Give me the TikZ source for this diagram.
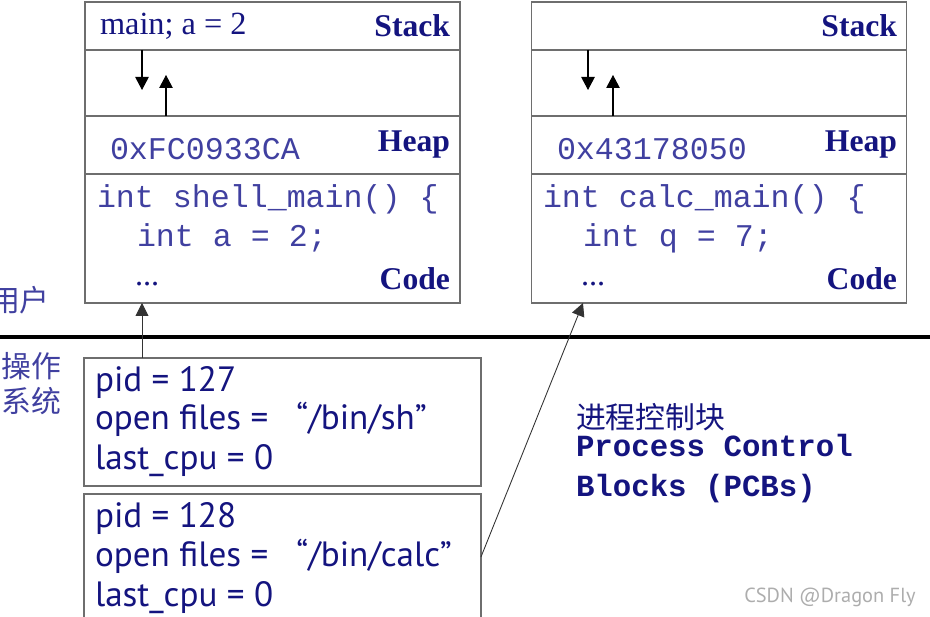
\documentclass[tikz,border=0pt]{standalone}
\usepackage{fontspec}
\setmainfont{Liberation Serif}
\setsansfont{PT Sans}
\setmonofont{Liberation Mono}
\newfontfamily\cjk{Noto Sans CJK SC}
\usetikzlibrary{arrows.meta,positioning,calc}
\definecolor{navy}{HTML}{14147F}
\definecolor{codeblue}{HTML}{4040A0}
\definecolor{frame}{HTML}{6E6E6E}
\tikzset{every node/.style={inner sep=0pt,outer sep=0pt},
 region/.style={draw=frame,line width=.8pt,minimum width=7.5cm},
 pcbbox/.style={draw=frame,line width=.8pt,minimum width=7.94cm},
 seglabel/.style={font=\bfseries\fontsize{18}{20}\selectfont,text=navy,anchor=base east},
 varline/.style={font=\fontsize{18.4}{20}\selectfont,text=navy,anchor=base west},
 codeline/.style={font=\ttfamily\fontsize{18}{20}\selectfont,text=codeblue,anchor=base west},
 pcbtext/.style={font=\sffamily\fontsize{20}{22}\selectfont,text=navy,anchor=base west},
 sidelabel/.style={font=\cjk\fontsize{17}{20}\selectfont,text=codeblue,align=left},
 growth/.style={-{Triangle[length=2.6mm,width=2.7mm]},draw=black,line width=.6pt},
 link/.style={-{Triangle[length=2.6mm,width=2.6mm]},draw=black!80,line width=.5pt}}
\begin{document}
\begin{tikzpicture}[x=0.02cm,y=-0.02cm]

\path[use as bounding box] (0,0) rectangle (930,617);
% shell address space
\node[region,minimum height=.96cm] (lstack) at (272.5,26) {};
\node[region,minimum height=1.32cm] (lgap) at (272.5,83) {};
\node[region,minimum height=1.16cm] (lheap) at (272.5,145) {};
\node[region,minimum height=2.58cm] (lcode) at (272.5,238.5) {};
\node[varline] (lmain) at (100,35) {main; a = 2};
\node[seglabel] (lstk) at (450,37) {Stack};
\node[seglabel] (lhp) at (450,152) {Heap};
\node[seglabel] (lcd) at (450,290) {Code};
\node[codeline] (laddr) at (110,160) {0xFC0933CA};
\node[codeline] (lfn) at (97,208) {int shell\_main() \{};
\node[codeline] (lln) at (137,247) {int a = 2;};
\node[varline] (ldots) at (135,286) {...};
\coordinate (lgo) at (142,90);
\coordinate (lup) at (166,75);
\draw[growth] (lgap.north -| lgo) -- (lgo);
\draw[growth] (lgap.south -| lup) -- (lup);

% calc address space
\node[region,minimum height=.96cm] (rstack) at (719,26) {};
\node[region,minimum height=1.32cm] (rgap) at (719,83) {};
\node[region,minimum height=1.16cm] (rheap) at (719,145) {};
\node[region,minimum height=2.58cm] (rcode) at (719,238.5) {};
\node[seglabel] (rstk) at (897,37) {Stack};
\node[seglabel] (rhp) at (897,152) {Heap};
\node[seglabel] (rcd) at (897,290) {Code};
\node[codeline] (raddr) at (557,160) {0x43178050};
\node[codeline] (rfn) at (543,208) {int calc\_main() \{};
\node[codeline] (rln) at (583,247) {int q = 7;};
\node[varline] (rdots) at (581,286) {...};
\coordinate (rgo) at (588,90);
\coordinate (rup) at (613,75);
\draw[growth] (rgap.north -| rgo) -- (rgo);
\draw[growth] (rgap.south -| rup) -- (rup);

% user / kernel boundary
\draw[line width=1.8pt] (0,337) -- (930,337);
\node[sidelabel] (user) at (20,300) {用户};
\node[sidelabel] (os) at (31,384) {操作\\系统};

% PCBs
\node[pcbbox,minimum height=2.56cm] (pcb1) at (282.5,422) {};
\node[pcbbox,minimum height=3.4cm] (pcb2) at (282.5,579) {};
\node[pcbtext] (pid1) at (95,392) {pid = 127};
\node[pcbtext] (of1) at (95,430) {open files =\hspace{16pt}“/bin/sh”};
\node[pcbtext] (cpu1) at (95,470) {last\_cpu = 0};
\node[pcbtext] (pid2) at (95,528) {pid = 128};
\node[pcbtext] (of2) at (95,567) {open files =\hspace{16pt}“/bin/calc”};
\node[pcbtext] (cpu2) at (95,607) {last\_cpu = 0};
\coordinate (shellpc) at (142,0);
\coordinate (calcpc) at (583,557);
\draw[link] (pcb1.north -| shellpc) -- (lcode.south -| shellpc);
\draw[link] (pcb2.east |- calcpc) -- (rcode.south -| calcpc);

\node[sidelabel,text=navy,anchor=west] (pcbcn) at (576,417) {进程控制块};
\node[font=\ttfamily\bfseries\fontsize{17.5}{20}\selectfont,text=navy,anchor=base west] (pcben) at (576,457) {Process Control};
\node[font=\ttfamily\bfseries\fontsize{17.5}{20}\selectfont,text=navy,anchor=base west] (pcben2) at (576,497) {Blocks (PCBs)};
\node[font=\sffamily\fontsize{11.6}{14}\selectfont,text=black!32] (mark) at (830,597) {CSDN @Dragon Fly};

\end{tikzpicture}
\end{document}
